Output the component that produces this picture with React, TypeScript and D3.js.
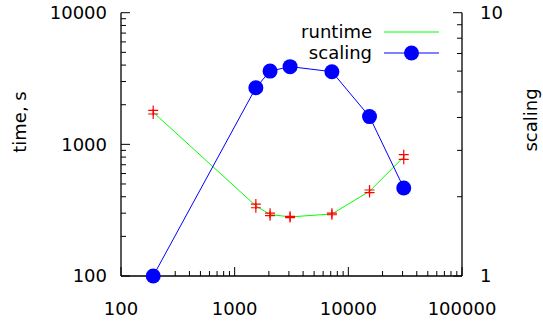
import * as d3 from "d3";

// processor counts and measured runtimes (two runs each), plus scaling
const procs = [192, 1536, 2048, 3072, 7168, 15360, 30720];
const runtimeA = [1810, 352, 300, 284, 300, 450, 835];
const runtimeB = [1700, 330, 287, 278, 292, 430, 770];
const scaling = [1.0, 5.19, 6.0, 6.24, 5.97, 4.03, 2.16];

const xTicks = [100, 1000, 10000, 100000];
const yLeftTicks = [100, 1000, 10000];
const yRightTicks = [1, 10];

const W = 543;
const H = 324;
const FONT = "'DejaVu Sans', sans-serif";

function minors(lo: number, hi: number) {
  const out: number[] = [];
  for (let d = lo; d < hi; d *= 10) {
    for (let k = 2; k <= 9; k++) out.push(d * k);
  }
  return out;
}

export default function App() {
  const left = 121, right = 462, top = 12.7, bottom = 276;

  const x = d3.scaleLog().domain([100, 100000]).range([left, right]);
  const yL = d3.scaleLog().domain([100, 10000]).range([bottom, top]);
  const yR = d3.scaleLog().domain([1, 10]).range([bottom, top]);

  const means = procs.map((p, i) => ({ p, v: (runtimeA[i] + runtimeB[i]) / 2 }));
  const runtimeLine = d3
    .line<{ p: number; v: number }>()
    .x((d) => x(d.p))
    .y((d) => yL(d.v))(means);

  const scalingLine = d3
    .line<number>()
    .x((_, i) => x(procs[i]))
    .y((d) => yR(d))(scaling);

  const cross = (cx: number, cy: number, key: string) => (
    <path
      key={key}
      d={`M${cx - 5},${cy}H${cx + 5}M${cx},${cy - 5}V${cy + 5}`}
      stroke="#ff0000"
      strokeWidth={1.2}
      fill="none"
    />
  );

  return (
    <svg
      width={W}
      height={H}
      style={{ position: "absolute", left: 0, top: 0, background: "#fff" }}
      fontFamily={FONT}
    >
      {/* axes lines */}
      <g stroke="#000" strokeWidth={1.3} fill="none">
        <line x1={left} x2={left} y1={top} y2={bottom} />
        <line x1={right} x2={right} y1={top} y2={bottom} />
        <line x1={left} x2={right} y1={bottom} y2={bottom} />
      </g>

      {/* bottom ticks */}
      <g stroke="#000" strokeWidth={1}>
        {xTicks.map((t) => (
          <line key={"xt" + t} x1={x(t)} x2={x(t)} y1={bottom} y2={bottom - 9} />
        ))}
        {minors(100, 100000).map((t) => (
          <line key={"xm" + t} x1={x(t)} x2={x(t)} y1={bottom} y2={bottom - 5} />
        ))}
        {yLeftTicks.map((t) => (
          <line key={"yl" + t} x1={left} x2={left + 9} y1={yL(t)} y2={yL(t)} />
        ))}
        {minors(100, 10000).map((t) => (
          <line key={"ylm" + t} x1={left} x2={left + 5} y1={yL(t)} y2={yL(t)} />
        ))}
        {yRightTicks.map((t) => (
          <line key={"yr" + t} x1={right} x2={right - 9} y1={yR(t)} y2={yR(t)} />
        ))}
        {minors(1, 10).map((t) => (
          <line key={"yrm" + t} x1={right} x2={right - 5} y1={yR(t)} y2={yR(t)} />
        ))}
      </g>

      {/* tick labels */}
      <g fontSize={18} fill="#000">
        {xTicks.map((t) => (
          <text key={"xl" + t} x={x(t)} y={315} textAnchor="middle">
            {t}
          </text>
        ))}
        {yLeftTicks.map((t) => (
          <text key={"yll" + t} x={107} y={yL(t)} dy="0.36em" textAnchor="end">
            {t}
          </text>
        ))}
        {yRightTicks.map((t) => (
          <text key={"yrl" + t} x={480} y={yR(t)} dy="0.36em" textAnchor="start">
            {t}
          </text>
        ))}
      </g>

      {/* axis titles */}
      <text
        fontSize={18}
        textAnchor="middle"
        transform={`translate(26,122) rotate(-90)`}
      >
        time, s
      </text>
      <text
        fontSize={18}
        textAnchor="middle"
        transform={`translate(537,120) rotate(-90)`}
      >
        scaling
      </text>

      {/* runtime */}
      <path d={runtimeLine ?? ""} fill="none" stroke="#00ff00" strokeWidth={1} />
      {procs.map((p, i) => cross(x(p), yL(runtimeA[i]), "a" + i))}
      {procs.map((p, i) => cross(x(p), yL(runtimeB[i]), "b" + i))}

      {/* scaling */}
      <path d={scalingLine ?? ""} fill="none" stroke="#0000ff" strokeWidth={1} />
      {scaling.map((s, i) => (
        <circle key={"s" + i} cx={x(procs[i])} cy={yR(s)} r={7.5} fill="#0000ff" />
      ))}

      {/* legend */}
      <g fontSize={18}>
        <text x={372} y={32} dy="0.36em" textAnchor="end">
          runtime
        </text>
        <line x1={384} x2={439} y1={32} y2={32} stroke="#00ff00" strokeWidth={1} />
        <text x={372} y={53} dy="0.36em" textAnchor="end">
          scaling
        </text>
        <line x1={384} x2={439} y1={53} y2={53} stroke="#0000ff" strokeWidth={1} />
        <circle cx={411.5} cy={53} r={7.5} fill="#0000ff" />
      </g>
    </svg>
  );
}
